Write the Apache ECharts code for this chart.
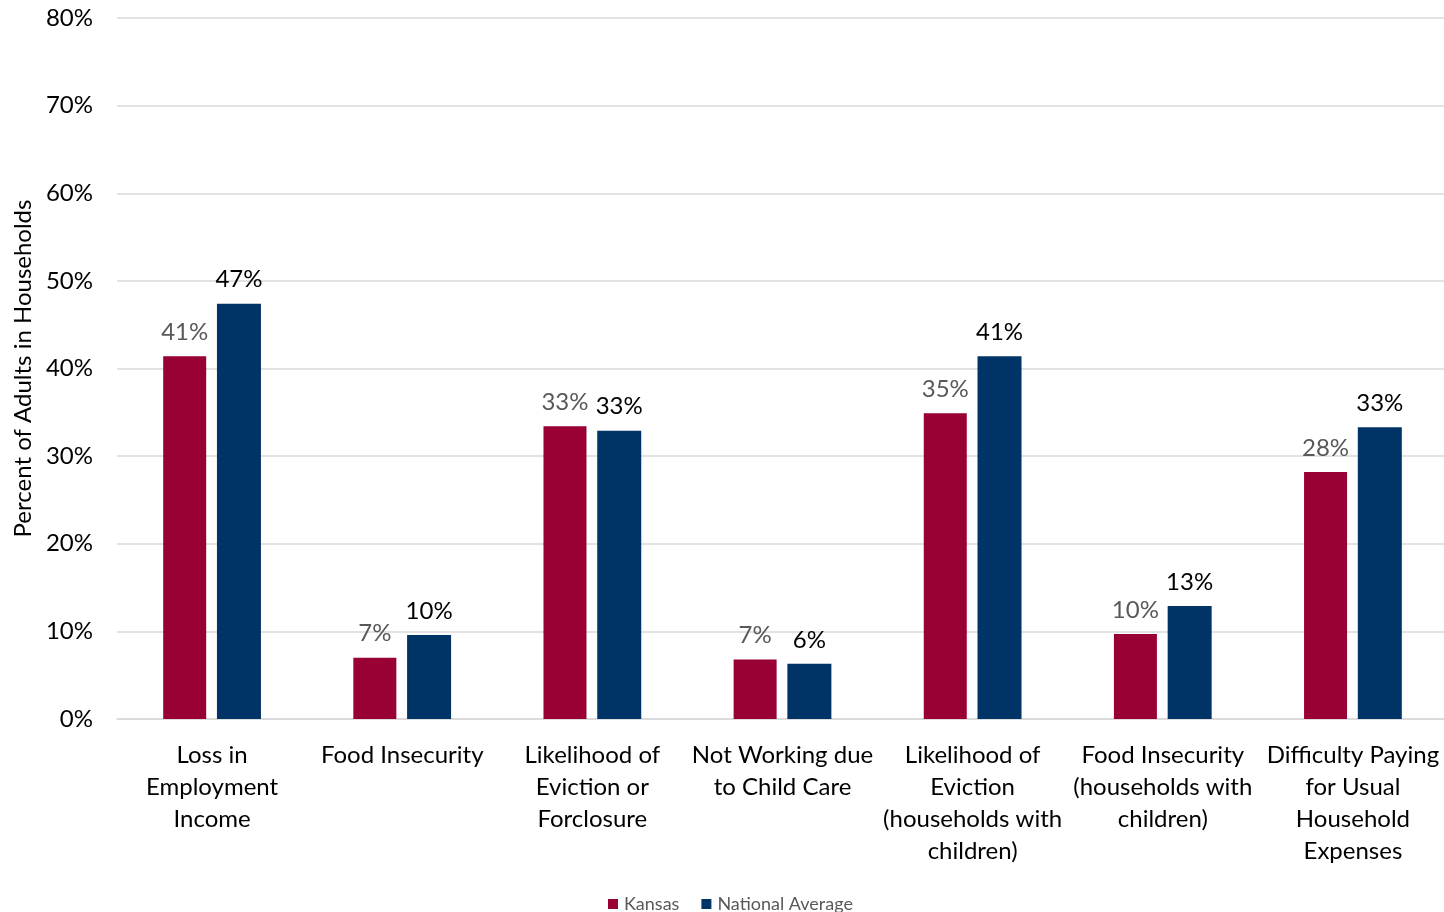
<!DOCTYPE html>
<html><head><meta charset="utf-8">
<script src="https://cdn.jsdelivr.net/npm/echarts@6/dist/echarts.min.js"></script>
<style>html,body{margin:0;padding:0;background:#fff}#c{width:1444px;height:912px}</style>
</head><body><div id="c"></div>
<script>
const categories = ['Loss in\nEmployment\nIncome','Food Insecurity','Likelihood of\nEviction or\nForclosure','Not Working due\nto Child Care','Likelihood of\nEviction\n(households with\nchildren)','Food Insecurity\n(households with\nchildren)','Difficulty Paying\nfor Usual\nHousehold\nExpenses'];
const kansas = [41.4, 7.0, 33.4, 6.8, 34.9, 9.7, 28.2];
const national = [47.4, 9.6, 32.9, 6.3, 41.4, 12.9, 33.3];
const yTicks = [0,10,20,30,40,50,60,70,80];
const FONT = 'Lato';
const chart = echarts.init(document.getElementById('c'));
chart.setOption({
  animation:false,
  textStyle:{fontFamily:FONT},
  grid:{left:117,right:-4,top:18,bottom:193,containLabel:false,outerBoundsMode:'none'},
  legend:{top:890,left:603,itemWidth:10,itemHeight:10,itemGap:22,icon:'rect',
    textStyle:{fontFamily:FONT,fontSize:18,color:'#595959',padding:[0,0,0,1]},
    data:['Kansas','National Average']},
  xAxis:{type:'category',data:categories,
    axisLine:{lineStyle:{color:'#d9d9d9',width:1.5}},axisTick:{show:false},
    axisLabel:{interval:0,fontFamily:FONT,fontSize:24,color:'#000',lineHeight:32,margin:20}},
  yAxis:{type:'value',min:yTicks[0],max:yTicks[yTicks.length-1],interval:10,
    name:'Percent of Adults in Households',nameLocation:'middle',nameGap:80,
    nameTextStyle:{fontFamily:FONT,fontSize:24,color:'#000'},
    axisLabel:{formatter:'{value}%',fontFamily:FONT,fontSize:24,color:'#000',margin:24},
    axisLine:{show:false},axisTick:{show:false},
    splitLine:{lineStyle:{color:'#d9d9d9',width:1.5}}},
  series:[
    {name:'Kansas',type:'bar',data:kansas,barWidth:43,barGap:'25%',
     itemStyle:{color:'#990033'},
     label:{show:true,position:'top',distance:12,fontFamily:FONT,fontSize:24,color:'#595959',
       formatter:p=>Math.round(p.value)+'%'}},
    {name:'National Average',type:'bar',data:national,barWidth:44,
     itemStyle:{color:'#003366'},
     label:{show:true,position:'top',distance:12,fontFamily:FONT,fontSize:24,color:'#000',
       formatter:p=>Math.round(p.value)+'%'}}
  ]
});
</script></body></html>
